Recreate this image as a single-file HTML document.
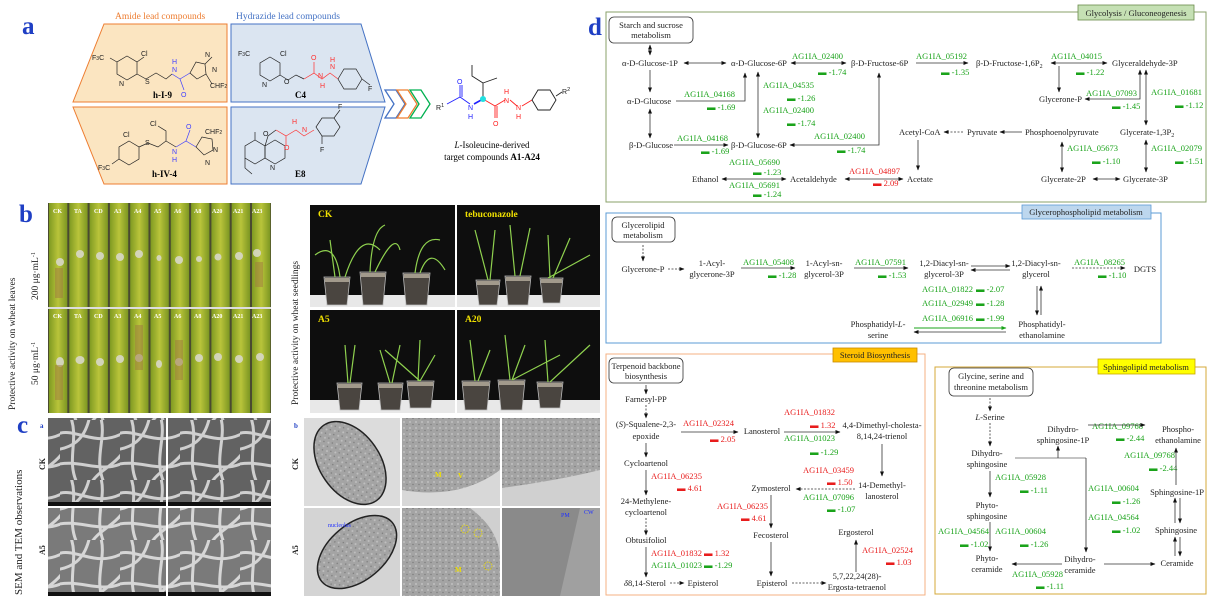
<!DOCTYPE html>
<html><head><meta charset="utf-8"><style>
html,body{margin:0;padding:0;background:#fff;}
svg{display:block;font-family:"Liberation Serif",serif;}
.t{font-size:8.5px;fill:#222;}
.g{font-size:8.5px;fill:#1aa31a;}
.r{font-size:8.5px;fill:#e81c1c;}
.ln{stroke:#333;stroke-width:0.8;fill:none;}
.lg{stroke:#888;stroke-width:0.9;fill:none;}
.dsh{stroke:#333;stroke-width:0.8;fill:none;stroke-dasharray:2,1.5;}
.ch{font-family:"Liberation Sans",sans-serif;font-size:7px;}
</style></head><body>
<svg width="1212" height="598" viewBox="0 0 1212 598" xmlns="http://www.w3.org/2000/svg">
<defs>
<marker id="a" markerWidth="5" markerHeight="5" refX="4.5" refY="2.5" orient="auto" markerUnits="userSpaceOnUse"><path d="M0,0.5L5,2.5L0,4.5z" fill="#111"/></marker>
<marker id="b" markerWidth="5" markerHeight="5" refX="0.5" refY="2.5" orient="auto" markerUnits="userSpaceOnUse"><path d="M5,0.5L0,2.5L5,4.5z" fill="#111"/></marker>
<marker id="ag" markerWidth="5" markerHeight="5" refX="4.5" refY="2.5" orient="auto" markerUnits="userSpaceOnUse"><path d="M0,0.5L5,2.5L0,4.5z" fill="#1aa31a"/></marker>
<linearGradient id="leaf" x1="0" x2="1" y1="0" y2="0"><stop offset="0" stop-color="#7f9a22"/><stop offset="0.5" stop-color="#b9c43a"/><stop offset="1" stop-color="#7c9622"/></linearGradient>
<pattern id="lp" x="48" y="0" width="20.3" height="600" patternUnits="userSpaceOnUse"><rect width="20.3" height="600" fill="#4a4a30"/><rect x="1" width="18.3" height="600" fill="url(#leaf)"/></pattern>
<pattern id="sem" width="60" height="60" patternUnits="userSpaceOnUse"><rect width="60" height="60" fill="#626262"/><path d="M-5,15 C15,5 35,30 65,12 M10,-5 C20,20 5,40 18,65 M-5,45 C20,38 40,55 65,42 M40,-5 C48,18 32,38 45,65 M-5,30 C10,28 25,22 30,-5 M30,65 C38,50 52,48 65,30" stroke="#cfcfcf" stroke-width="3" fill="none"/></pattern>
<pattern id="tem" width="6" height="6" patternUnits="userSpaceOnUse"><rect width="6" height="6" fill="#a4a4a4"/><circle cx="2" cy="2" r="1" fill="#c0c0c0"/><circle cx="5" cy="4.5" r="0.7" fill="#7a7a7a"/></pattern>
</defs>
<rect width="1212" height="598" fill="#fff"/>

<!-- ============ PANEL A ============ -->
<text x="22" y="34" font-size="25" font-weight="bold" fill="#1f3fc4">a</text>
<text x="115" y="19" font-size="9.5" fill="#ed7d31">Amide lead compounds</text>
<text x="236" y="19" font-size="9.5" fill="#4472c4">Hydrazide lead compounds</text>
<polygon points="104,24 227,24 227,102 73,102" fill="#fbe5c1" stroke="#ed7d31" stroke-width="1"/>
<polygon points="73,107 227,107 227,184 104,184" fill="#fbe5c1" stroke="#ed7d31" stroke-width="1"/>
<polygon points="231,24 361,24 385,102 231,102" fill="#dbe5f1" stroke="#4472c4" stroke-width="1"/>
<polygon points="231,107 385,107 361,184 231,184" fill="#dbe5f1" stroke="#4472c4" stroke-width="1"/>
<g fill="none" stroke-width="1.3">
<path d="M385,90 L396,90 L405,104 L396,118 L385,118 L394,104Z" stroke="#4472c4"/>
<path d="M397,90 L408,90 L417,104 L408,118 L397,118 L406,104Z" stroke="#ed7d31"/>
<path d="M410,90 L421,90 L430,104 L421,118 L410,118 L419,104Z" stroke="#00b050"/>
</g>
<!-- h-I-9 -->
<g class="ch" stroke="#222" stroke-width="0.7" fill="none">
<polygon points="127,56 137,62 137,74 127,80 117,74 117,62"/>
<path d="M137,62 L144,57 M137,74 L146,79 L156,73 L166,79 L172,74"/>
<path d="M172,74 L180,79" stroke="#4040ff"/><path d="M180,79 L184,90 M180,79 L190,73" stroke="#4040ff"/>
<polygon points="190,73 196,62 205,64 206,74 197,79"/>
<path d="M205,64 L212,57 M206,74 L212,84"/>
<path d="M117,62 L110,58"/>
</g>
<g class="ch" fill="#222"><text x="92" y="60">F<tspan font-size="5">3</tspan>C</text><text x="141" y="56">Cl</text><text x="119" y="86">N</text><text x="145" y="84">S</text><text x="210" y="88">CHF<tspan font-size="5">2</tspan></text><text x="205" y="57">N</text><text x="212" y="72">N</text></g>
<g class="ch" fill="#4040ff"><text x="172" y="72">N</text><text x="172" y="64">H</text><text x="181" y="97">O</text></g>
<text x="153" y="98" font-size="9" font-weight="bold">h-I-9</text>
<!-- h-IV-4 -->
<g stroke="#222" stroke-width="0.7" fill="none">
<polygon points="129,141 139,147 139,159 129,165 119,159 119,147"/>
<path d="M139,147 L148,143 L158,147 L166,141 L166,131 L158,126 M166,141 L176,147"/>
<path d="M176,147 L186,141 L190,130 M186,141 L196,147" stroke="#4040ff"/>
<polygon points="196,147 202,137 212,139 213,150 204,155"/>
<path d="M119,159 L112,164"/>
</g>
<g class="ch" fill="#222"><text x="150" y="126">Cl</text><text x="123" y="137">Cl</text><text x="145" y="145">S</text><text x="98" y="170">F<tspan font-size="5">3</tspan>C</text><text x="205" y="134">CHF<tspan font-size="5">2</tspan></text><text x="213" y="152">N</text><text x="205" y="165">N</text></g>
<g class="ch" fill="#4040ff"><text x="172" y="154">N</text><text x="172" y="162">H</text><text x="186" y="129">O</text></g>
<text x="152" y="177" font-size="9" font-weight="bold">h-IV-4</text>
<!-- C4 -->
<g stroke="#222" stroke-width="0.7" fill="none">
<polygon points="270,57 280,63 280,75 270,81 260,75 260,63"/>
<path d="M280,75 L288,80 L296,75 L304,79"/>
<path d="M304,79 L314,73 L314,62 M314,73 L322,79 L330,73 L338,79" stroke="#ff3030"/>
<polygon points="338,79 344,69 356,69 362,79 356,89 344,89"/>
<path d="M362,79 L370,85"/>
</g>
<g class="ch" fill="#222"><text x="238" y="56">F<tspan font-size="5">3</tspan>C</text><text x="280" y="56">Cl</text><text x="262" y="87">N</text><text x="284" y="84">O</text><text x="368" y="91">F</text></g>
<g class="ch" fill="#ff3030"><text x="311" y="60">O</text><text x="318" y="78">N</text><text x="320" y="88">H</text><text x="330" y="69">N</text><text x="330" y="62">H</text></g>
<text x="295" y="98" font-size="9" font-weight="bold">C4</text>
<!-- E8 -->
<g stroke="#222" stroke-width="0.7" fill="none">
<polygon points="255,140 265,146 265,158 255,164 245,158 245,146"/>
<polygon points="265,146 275,140 285,146 285,158 275,164 265,158"/>
<path d="M265,146 L268,136 L276,130 M255,140 L255,132 M245,158 L245,168 L252,174"/>
<path d="M276,130 L286,136 L286,146 M286,136 L296,130 L304,136 L314,130" stroke="#ff3030"/>
<polygon points="316,127 322,118 334,118 340,127 334,136 322,136"/>
<path d="M334,118 L340,110 M322,136 L322,144"/>
</g>
<g class="ch" fill="#222"><text x="263" y="136">O</text><text x="270" y="170">N</text><text x="338" y="109">F</text><text x="320" y="152">F</text></g>
<g class="ch" fill="#ff3030"><text x="284" y="150">O</text><text x="302" y="132">N</text><text x="292" y="124">H</text></g>
<text x="295" y="177" font-size="9" font-weight="bold">E8</text>
<!-- target -->
<g stroke-width="0.9" fill="none">
<path d="M447,104 L460,97 L460,85 M462,97 L462,85 M460,97 L470,104" stroke="#2020ff"/>
<path d="M474,104 L483,99" stroke="#2020ff" stroke-width="1.6"/>
<path d="M483,99 L483,83 L472,76 L472,65 M483,83 L497,78" stroke="#222"/>
<path d="M483,99 L495,106 L495,118 M497,106 L497,118 M495,106 L505,100 M510,100 L517,106 M522,106 L532,100" stroke="#ff2020"/>
<polygon points="532,100 538,90 550,90 556,100 550,110 538,110" stroke="#222"/>
<path d="M556,96 L562,92" stroke="#222"/>
</g>
<circle cx="483" cy="99" r="3" fill="#20e0e0"/>
<g class="ch" font-size="8.5px"><text x="436" y="110" fill="#222">R<tspan font-size="5.5" dy="-3">1</tspan></text><text x="457" y="84" fill="#2020ff">O</text><text x="468" y="110" fill="#2020ff">N</text><text x="468" y="119" fill="#2020ff">H</text><text x="493" y="126" fill="#ff2020">O</text><text x="504" y="103" fill="#ff2020">N</text><text x="504" y="94" fill="#ff2020">H</text><text x="516" y="110" fill="#ff2020">N</text><text x="516" y="119" fill="#ff2020">H</text><text x="562" y="94" fill="#222">R<tspan font-size="5.5" dy="-3">2</tspan></text></g>
<text x="492" y="148" font-size="9" text-anchor="middle"><tspan font-style="italic">L</tspan>-Isoleucine-derived</text>
<text x="492" y="160" font-size="9" text-anchor="middle">target compounds <tspan font-weight="bold">A1-A24</tspan></text>

<!-- ============ PANEL B ============ -->
<text x="19" y="222" font-size="25" font-weight="bold" fill="#1f3fc4">b</text>
<text transform="translate(15,410) rotate(-90)" font-size="9.5" fill="#222">Protective activity on wheat leaves</text>
<text transform="translate(38,300) rotate(-90)" font-size="9.5" fill="#222">200 μg·mL<tspan font-size="6" dy="-3">-1</tspan></text>
<text transform="translate(38,385) rotate(-90)" font-size="9.5" fill="#222">50 μg·mL<tspan font-size="6" dy="-3">-1</tspan></text>
<rect x="48" y="203" width="223" height="210" fill="url(#lp)"/>
<rect x="48" y="307" width="223" height="2" fill="#ddd"/>
<g fill="#d8d8c8" opacity="0.9">
<ellipse cx="60" cy="262" rx="4" ry="4"/><ellipse cx="80" cy="254" rx="4" ry="4"/><ellipse cx="100" cy="256" rx="4" ry="4"/><ellipse cx="120" cy="257" rx="4" ry="4"/><ellipse cx="139" cy="254" rx="4" ry="4"/><ellipse cx="159" cy="258" rx="2.5" ry="3"/><ellipse cx="179" cy="260" rx="4" ry="4"/><ellipse cx="199" cy="259" rx="3" ry="3"/><ellipse cx="218" cy="257" rx="3.5" ry="3.5"/><ellipse cx="239" cy="256" rx="4" ry="4"/><ellipse cx="257" cy="253" rx="4" ry="4"/>
<ellipse cx="60" cy="362" rx="4" ry="5"/><ellipse cx="80" cy="360" rx="4.5" ry="4"/><ellipse cx="100" cy="362" rx="4" ry="4"/><ellipse cx="120" cy="359" rx="4" ry="4"/><ellipse cx="139" cy="358" rx="4" ry="4"/><ellipse cx="159" cy="364" rx="3" ry="4"/><ellipse cx="179" cy="362" rx="4" ry="4"/><ellipse cx="199" cy="358" rx="4" ry="4"/><ellipse cx="218" cy="357" rx="4" ry="4"/><ellipse cx="239" cy="359" rx="4" ry="4"/><ellipse cx="260" cy="357" rx="4" ry="4"/>
</g>
<g fill="#a07a40" opacity="0.5"><rect x="55" y="268" width="8" height="30"/><rect x="55" y="365" width="8" height="35"/><rect x="255" y="262" width="8" height="25"/><rect x="175" y="340" width="8" height="40"/><rect x="135" y="325" width="8" height="45"/></g>
<g font-size="6" font-weight="bold" fill="#fff"><text x="53" y="213">CK</text><text x="74" y="213">TA</text><text x="94" y="213">CD</text><text x="114" y="213">A3</text><text x="134" y="213">A4</text><text x="154" y="213">A5</text><text x="174" y="213">A6</text><text x="194" y="213">A8</text><text x="212" y="213">A20</text><text x="233" y="213">A21</text><text x="252" y="213">A23</text>
<text x="53" y="318">CK</text><text x="74" y="318">TA</text><text x="94" y="318">CD</text><text x="114" y="318">A3</text><text x="134" y="318">A4</text><text x="154" y="318">A5</text><text x="174" y="318">A6</text><text x="194" y="318">A8</text><text x="212" y="318">A20</text><text x="233" y="318">A21</text><text x="252" y="318">A23</text></g>

<text transform="translate(298,405) rotate(-90)" font-size="9.5" fill="#222">Protective activity on wheat seedlings</text>
<rect x="310" y="205" width="145" height="102" fill="#0e0e0e"/>
<rect x="457" y="205" width="143" height="102" fill="#0e0e0e"/>
<rect x="310" y="310" width="145" height="103" fill="#0e0e0e"/>
<rect x="457" y="310" width="143" height="103" fill="#0e0e0e"/>
<g fill="#e8e8e8"><rect x="310" y="295" width="145" height="12"/><rect x="457" y="295" width="143" height="12"/><rect x="310" y="400" width="145" height="13"/><rect x="457" y="400" width="143" height="13"/></g>
<g fill="#4a4540" stroke="#bbb" stroke-width="0.8">
<path d="M324,277 L350,277 L347,305 L327,305Z"/><path d="M360,272 L386,272 L383,305 L363,305Z"/><path d="M403,273 L430,273 L427,305 L406,305Z"/>
<path d="M476,280 L500,280 L497,305 L479,305Z"/><path d="M505,276 L531,276 L528,305 L508,305Z"/><path d="M540,278 L563,278 L560,303 L543,303Z"/>
<path d="M337,383 L362,383 L359,410 L340,410Z"/><path d="M378,383 L403,383 L400,410 L381,410Z"/><path d="M407,381 L434,381 L431,408 L410,408Z"/>
<path d="M462,381 L490,381 L487,410 L465,410Z"/><path d="M498,380 L525,380 L522,410 L501,410Z"/><path d="M537,382 L563,382 L560,408 L540,408Z"/>
</g>
<g fill="#b8b0a0" opacity="0.8"><rect x="325" y="278" width="24" height="4"/><rect x="361" y="273" width="24" height="4"/><rect x="404" y="274" width="25" height="4"/><rect x="477" y="281" width="22" height="4"/><rect x="506" y="277" width="24" height="4"/><rect x="541" y="279" width="21" height="4"/><rect x="338" y="384" width="23" height="4"/><rect x="379" y="384" width="23" height="4"/><rect x="408" y="382" width="25" height="4"/><rect x="463" y="382" width="26" height="4"/><rect x="499" y="381" width="25" height="4"/><rect x="538" y="383" width="24" height="4"/></g>
<g stroke="#8fd14f" stroke-width="1.2" fill="none">
<path d="M335,277 L330,240 M340,277 Q335,240 315,255 M345,277 Q360,230 380,250 M370,272 Q372,230 385,225 M375,272 Q395,230 400,250 M415,273 Q420,235 440,240 M420,273 Q430,245 445,270"/>
<path d="M488,280 L475,230 M490,280 L495,230 M515,276 L510,225 M520,276 L530,228 M550,278 L548,235 M553,278 L570,238 M548,278 L590,255"/>
<path d="M348,383 L345,345 M350,383 L355,345 M390,383 L380,350 M392,383 L400,345 M418,381 L420,340 M420,381 L435,355 M420,381 L385,350"/>
<path d="M475,381 L470,340 M478,381 L490,350 M510,380 L505,335 M512,380 L525,345 M548,382 L545,340 M550,382 L590,345 M512,380 L560,355"/>
</g>
<g font-size="9.5" font-weight="bold" fill="#f0e000"><text x="318" y="217">CK</text><text x="465" y="217">tebuconazole</text><text x="318" y="322">A5</text><text x="465" y="322">A20</text></g>

<!-- ============ PANEL C ============ -->
<text x="17" y="433" font-size="25" font-weight="bold" fill="#1f3fc4">c</text>
<text transform="translate(22,595) rotate(-90)" font-size="11" fill="#222">SEM and TEM observations</text>
<text x="40" y="428" font-size="7" font-weight="bold" fill="#1f3fc4">a</text>
<text transform="translate(45,470) rotate(-90)" font-size="8" font-weight="bold" fill="#222">CK</text>
<text transform="translate(45,555) rotate(-90)" font-size="8" font-weight="bold" fill="#222">A5</text>
<rect x="48" y="418" width="118" height="88" fill="url(#sem)"/><rect x="168" y="418" width="103" height="88" fill="url(#sem)"/>
<rect x="48" y="508" width="118" height="88" fill="url(#sem)" opacity="0.85"/><rect x="168" y="508" width="103" height="88" fill="url(#sem)" opacity="0.85"/>
<g fill="#111"><rect x="48" y="502" width="118" height="4"/><rect x="168" y="502" width="103" height="4"/><rect x="48" y="592" width="118" height="4"/><rect x="168" y="592" width="103" height="4"/></g>
<text x="294" y="428" font-size="7" font-weight="bold" fill="#1f3fc4">b</text>
<text transform="translate(298,470) rotate(-90)" font-size="8" font-weight="bold" fill="#222">CK</text>
<text transform="translate(298,555) rotate(-90)" font-size="8" font-weight="bold" fill="#222">A5</text>
<rect x="304" y="418" width="96" height="88" fill="#dcdcdc"/>
<ellipse cx="350" cy="463" rx="30" ry="46" transform="rotate(-35 350 463)" fill="url(#tem)" stroke="#222" stroke-width="1.5"/>
<rect x="402" y="418" width="98" height="88" fill="url(#tem)"/>
<path d="M402,490 Q460,500 500,470 L500,506 L402,506Z" fill="#d8d8d8"/>
<rect x="502" y="418" width="98" height="88" fill="url(#tem)"/>
<path d="M502,488 Q560,480 600,470 L600,506 L502,506Z" fill="#d0d0d0"/>
<rect x="304" y="508" width="96" height="88" fill="#d4d4d4"/>
<ellipse cx="357" cy="552" rx="28" ry="46" transform="rotate(50 357 552)" fill="url(#tem)" stroke="#222" stroke-width="1.5"/>
<rect x="402" y="508" width="98" height="88" fill="url(#tem)"/>
<path d="M470,508 Q500,530 500,560 L500,508Z" fill="#d0d0d0"/>
<rect x="502" y="508" width="98" height="88" fill="#8a8a8a"/>
<path d="M580,508 L600,508 L600,596 L560,596Z" fill="#a0a0a0"/>
<g font-size="7" fill="#f0e000" font-weight="bold"><text x="435" y="477">M</text><text x="458" y="478">V</text><text x="455" y="572">M</text></g>
<g font-size="6" fill="#2030ff"><text x="328" y="527">nucleolus</text><text x="561" y="517">PM</text><text x="584" y="514">CW</text></g>
<g fill="none" stroke="#f0e000" stroke-width="0.8" stroke-dasharray="1.5,1"><circle cx="465" cy="529" r="4"/><circle cx="478" cy="533" r="4"/><circle cx="488" cy="566" r="4"/></g>

<!-- ============ PANEL D ============ -->
<text x="588" y="35" font-size="25" font-weight="bold" fill="#1f3fc4">d</text>
<rect x="606" y="12" width="600" height="190" fill="none" stroke="#8aa06a" stroke-width="1"/>
<rect x="1078" y="5" width="116" height="15" fill="#c5e0b4" stroke="#6a8a4a" stroke-width="0.8"/>
<text x="1136" y="16" font-size="8.5" text-anchor="middle" fill="#222">Glycolysis / Gluconeogenesis</text>
<rect x="609" y="17" width="84" height="26" rx="5" fill="#fff" stroke="#333" stroke-width="0.8"/>
<text x="651" y="28" class="t" text-anchor="middle">Starch and sucrose</text><text x="651" y="38" class="t" text-anchor="middle">metabolism</text>
<g class="t">
<text x="622" y="66">α-D-Glucose-1P</text><text x="731" y="66">α-D-Glucose-6P</text><text x="851" y="66">β-D-Fructose-6P</text><text x="976" y="66">β-D-Fructose-1,6P<tspan font-size="6" dy="2">2</tspan></text><text x="1112" y="66">Glyceraldehyde-3P</text>
<text x="627" y="104">α-D-Glucose</text><text x="629" y="148">β-D-Glucose</text><text x="731" y="148">β-D-Glucose-6P</text>
<text x="1039" y="102">Glycerone-P</text>
<text x="899" y="135">Acetyl-CoA</text><text x="967" y="135">Pyruvate</text><text x="1025" y="135">Phosphoenolpyruvate</text><text x="1120" y="135">Glycerate-1,3P<tspan font-size="6" dy="2">2</tspan></text>
<text x="692" y="182">Ethanol</text><text x="790" y="182">Acetaldehyde</text><text x="907" y="182">Acetate</text><text x="1041" y="182">Glycerate-2P</text><text x="1123" y="182">Glycerate-3P</text>
</g>
<g class="g">
<text x="792" y="59">AG1IA_02400</text><text x="818" y="75">▬ -1.74</text>
<text x="916" y="59">AG1IA_05192</text><text x="941" y="75">▬ -1.35</text>
<text x="1051" y="59">AG1IA_04015</text><text x="1076" y="75">▬ -1.22</text>
<text x="684" y="97">AG1IA_04168</text><text x="707" y="110">▬ -1.69</text>
<text x="763" y="88">AG1IA_04535</text><text x="787" y="101">▬ -1.26</text>
<text x="763" y="113">AG1IA_02400</text><text x="787" y="126">▬ -1.74</text>
<text x="677" y="141">AG1IA_04168</text><text x="701" y="154">▬ -1.69</text>
<text x="814" y="139">AG1IA_02400</text><text x="837" y="153">▬ -1.74</text>
<text x="1086" y="96">AG1IA_07093</text><text x="1112" y="109">▬ -1.45</text>
<text x="1151" y="95">AG1IA_01681</text><text x="1175" y="108">▬ -1.12</text>
<text x="729" y="165">AG1IA_05690</text><text x="753" y="175">▬ -1.23</text>
<text x="729" y="188">AG1IA_05691</text><text x="753" y="197">▬ -1.24</text>
<text x="1067" y="151">AG1IA_05673</text><text x="1092" y="164">▬ -1.10</text>
<text x="1151" y="151">AG1IA_02079</text><text x="1175" y="164">▬ -1.51</text>
</g>
<g class="r"><text x="849" y="174">AG1IA_04897</text><text x="873" y="186">▬ 2.09</text></g>
<g class="ln">
<path d="M650,45 L650,55" marker-start="url(#b)" marker-end="url(#a)"/>
<path d="M684,63 L726,63" marker-start="url(#b)" marker-end="url(#a)"/>
<path d="M791,63 L846,63" marker-start="url(#b)" marker-end="url(#a)"/>
<path d="M916,63 L968,63" marker-end="url(#a)"/>
<path d="M1051,63 L1107,63" marker-start="url(#b)" marker-end="url(#a)"/>
<path d="M1059,66 L1059,92" marker-end="url(#a)"/>
<path d="M1140,70 L1140,99 L1085,99" marker-start="url(#b)" marker-end="url(#a)"/>
<path d="M1146,70 L1146,125" marker-start="url(#b)" marker-end="url(#a)"/>
<path d="M650,70 L650,92" marker-end="url(#a)"/>
<path d="M650,109 L650,138" marker-start="url(#b)" marker-end="url(#a)"/>
<path d="M676,101 L745,101 L745,73" marker-end="url(#a)"/>
<path d="M674,145 L728,145" marker-end="url(#a)"/>
<path d="M758,72 L758,138" marker-start="url(#b)" marker-end="url(#a)"/>
<path d="M879,73 L879,145 L790,145" marker-start="url(#b)" marker-end="url(#a)"/>
<path d="M1022,132 L1000,132" marker-end="url(#a)"/>
<path d="M963,132 L944,132" class="dsh" marker-end="url(#a)"/>
<path d="M918,140 L918,170" marker-end="url(#a)"/>
<path d="M722,179 L786,179" marker-start="url(#b)" marker-end="url(#a)"/>
<path d="M845,179 L903,179" marker-start="url(#b)" marker-end="url(#a)"/>
<path d="M1062,142 L1062,172" marker-start="url(#b)" marker-end="url(#a)"/>
<path d="M1146,140 L1146,172" marker-start="url(#b)" marker-end="url(#a)"/>
<path d="M1093,179 L1120,179" marker-start="url(#b)" marker-end="url(#a)"/>
</g>

<rect x="606" y="213" width="555" height="130" fill="none" stroke="#5b9bd5" stroke-width="1"/>
<rect x="1022" y="205" width="129" height="14" fill="#bdd7ee" stroke="#5b9bd5" stroke-width="0.8"/>
<text x="1086" y="215" font-size="8.5" text-anchor="middle" fill="#222">Glycerophospholipid metabolism</text>
<rect x="612" y="217" width="63" height="25" rx="5" fill="#fff" stroke="#333" stroke-width="0.8"/>
<text x="643" y="228" class="t" text-anchor="middle">Glycerolipid</text><text x="643" y="238" class="t" text-anchor="middle">metabolism</text>
<g class="t" text-anchor="middle">
<text x="643" y="272">Glycerone-P</text>
<text x="712" y="266">1-Acyl-</text><text x="712" y="277">glycerone-3P</text>
<text x="824" y="266">1-Acyl-sn-</text><text x="824" y="277">glycerol-3P</text>
<text x="944" y="266">1,2-Diacyl-sn-</text><text x="944" y="277">glycerol-3P</text>
<text x="1036" y="266">1,2-Diacyl-sn-</text><text x="1036" y="277">glycerol</text>
<text x="1145" y="272">DGTS</text>
<text x="878" y="327">Phosphatidyl-<tspan font-style="italic">L</tspan>-</text><text x="878" y="338">serine</text>
<text x="1042" y="327">Phosphatidyl-</text><text x="1042" y="338">ethanolamine</text>
</g>
<g class="g">
<text x="743" y="265">AG1IA_05408</text><text x="768" y="278">▬ -1.28</text>
<text x="855" y="265">AG1IA_07591</text><text x="878" y="278">▬ -1.53</text>
<text x="1074" y="265">AG1IA_08265</text><text x="1098" y="278">▬ -1.10</text>
<text x="922" y="292">AG1IA_01822</text><text x="976" y="292">▬ -2.07</text>
<text x="922" y="306">AG1IA_02949</text><text x="976" y="306">▬ -1.28</text>
<text x="922" y="321">AG1IA_06916</text><text x="976" y="321">▬ -1.99</text>
</g>
<g class="ln">
<path d="M643,245 L643,261" class="dsh" marker-end="url(#a)"/>
<path d="M668,269 L684,269" class="dsh" marker-end="url(#a)"/>
<path d="M741,268 L795,268" marker-end="url(#a)"/>
<path d="M854,268 L908,268" marker-end="url(#a)"/>
<path d="M971,266 L1010,266" marker-end="url(#a)"/>
<path d="M1010,270 L971,270" marker-end="url(#a)"/>
<path d="M1072,268 L1125,268" class="dsh" marker-end="url(#a)"/>
<path d="M1037,286 L1037,315" marker-end="url(#a)"/>
<path d="M1041,315 L1041,286" marker-end="url(#a)"/>
<path d="M1006,332 L914,332" marker-end="url(#a)"/>
</g>
<path d="M914,328 L1006,328" stroke="#1aa31a" stroke-width="0.9" marker-end="url(#ag)"/>

<rect x="606" y="354" width="319" height="241" fill="none" stroke="#f4b183" stroke-width="1"/>
<rect x="833" y="348" width="84" height="14" fill="#ffc000" stroke="#c98a00" stroke-width="0.8"/>
<text x="875" y="358" font-size="8.5" text-anchor="middle" fill="#222">Steroid Biosynthesis</text>
<rect x="609" y="358" width="74" height="25" rx="5" fill="#fff" stroke="#333" stroke-width="0.8"/>
<text x="646" y="369" class="t" text-anchor="middle">Terpenoid backbone</text><text x="646" y="379" class="t" text-anchor="middle">biosynthesis</text>
<g class="t" text-anchor="middle">
<text x="646" y="402">Farnesyl-PP</text>
<text x="646" y="427">(<tspan font-style="italic">S</tspan>)-Squalene-2,3-</text><text x="646" y="439">epoxide</text>
<text x="762" y="434">Lanosterol</text>
<text x="882" y="428">4,4-Dimethyl-cholesta-</text><text x="882" y="439">8,14,24-trienol</text>
<text x="646" y="466">Cycloartenol</text>
<text x="646" y="504">24-Methylene-</text><text x="646" y="515">cycloartenol</text>
<text x="646" y="543">Obtusifoliol</text>
<text x="645" y="586"><tspan font-style="italic">δ</tspan>8,14-Sterol</text>
<text x="703" y="586">Episterol</text>
<text x="882" y="488">14-Demethyl-</text><text x="882" y="499">lanosterol</text>
<text x="771" y="491">Zymosterol</text>
<text x="771" y="538">Fecosterol</text>
<text x="856" y="535">Ergosterol</text>
<text x="772" y="586">Episterol</text>
<text x="857" y="579">5,7,22,24(28)-</text><text x="857" y="590">Ergosta-tetraenol</text>
</g>
<g class="r">
<text x="683" y="426">AG1IA_02324</text><text x="710" y="442">▬ 2.05</text>
<text x="784" y="415">AG1IA_01832</text><text x="810" y="428">▬ 1.32</text>
<text x="651" y="479">AG1IA_06235</text><text x="677" y="491">▬ 4.61</text>
<text x="651" y="556">AG1IA_01832</text><text x="704" y="556">▬ 1.32</text>
<text x="803" y="473">AG1IA_03459</text><text x="827" y="485">▬ 1.50</text>
<text x="717" y="509">AG1IA_06235</text><text x="741" y="521">▬ 4.61</text>
<text x="862" y="553">AG1IA_02524</text><text x="886" y="565">▬ 1.03</text>
</g>
<g class="g">
<text x="784" y="441">AG1IA_01023</text><text x="810" y="455">▬ -1.29</text>
<text x="651" y="568">AG1IA_01023</text><text x="704" y="568">▬ -1.29</text>
<text x="803" y="500">AG1IA_07096</text><text x="827" y="512">▬ -1.07</text>
</g>
<g class="ln">
<path d="M646,385 L646,394" marker-end="url(#a)"/>
<path d="M646,405 L646,418" class="dsh" marker-end="url(#a)"/>
<path d="M681,432 L738,432" marker-end="url(#a)"/>
<path d="M784,432 L840,432" marker-end="url(#a)"/>
<path d="M646,443 L646,457" marker-end="url(#a)"/>
<path d="M646,470 L646,495" marker-end="url(#a)"/>
<path d="M646,518 L646,535" class="dsh" marker-end="url(#a)"/>
<path d="M646,547 L646,577" marker-end="url(#a)"/>
<path d="M670,583 L684,583" class="dsh" marker-end="url(#a)"/>
<path d="M882,444 L882,476" marker-end="url(#a)"/>
<path d="M855,489 L796,489" class="dsh" marker-end="url(#a)"/>
<path d="M771,495 L771,528" marker-end="url(#a)"/>
<path d="M771,542 L771,576" marker-end="url(#a)"/>
<path d="M792,583 L826,583" class="dsh" marker-end="url(#a)"/>
<path d="M856,572 L856,540" marker-end="url(#a)"/>
</g>

<rect x="935" y="367" width="271" height="227" fill="none" stroke="#d4a83a" stroke-width="1"/>
<rect x="1098" y="359" width="97" height="15" fill="#ffff00" stroke="#c9a800" stroke-width="0.8"/>
<text x="1146" y="370" font-size="8.5" text-anchor="middle" fill="#222">Sphingolipid metabolism</text>
<rect x="949" y="368" width="84" height="28" rx="5" fill="#fff" stroke="#333" stroke-width="0.8"/>
<text x="991" y="379" class="t" text-anchor="middle">Glycine, serine and</text><text x="991" y="390" class="t" text-anchor="middle">threonine metabolism</text>
<g class="t" text-anchor="middle">
<text x="990" y="420"><tspan font-style="italic">L</tspan>-Serine</text>
<text x="987" y="456">Dihydro-</text><text x="987" y="467">sphingosine</text>
<text x="1063" y="432">Dihydro-</text><text x="1063" y="443">sphingosine-1P</text>
<text x="1178" y="432">Phospho-</text><text x="1178" y="443">ethanolamine</text>
<text x="1177" y="495">Sphingosine-1P</text>
<text x="987" y="508">Phyto-</text><text x="987" y="519">sphingosine</text>
<text x="1176" y="533">Sphingosine</text>
<text x="987" y="561">Phyto-</text><text x="987" y="572">ceramide</text>
<text x="1080" y="562">Dihydro-</text><text x="1080" y="573">ceramide</text>
<text x="1177" y="566">Ceramide</text>
</g>
<g class="g">
<text x="1092" y="429">AG1IA_09768</text><text x="1116" y="441">▬ -2.44</text>
<text x="995" y="480">AG1IA_05928</text><text x="1020" y="493">▬ -1.11</text>
<text x="1124" y="458">AG1IA_09768</text><text x="1149" y="471">▬ -2.44</text>
<text x="1088" y="491">AG1IA_00604</text><text x="1112" y="504">▬ -1.26</text>
<text x="1088" y="520">AG1IA_04564</text><text x="1112" y="533">▬ -1.02</text>
<text x="938" y="534">AG1IA_04564</text><text x="960" y="547">▬ -1.02</text>
<text x="995" y="534">AG1IA_00604</text><text x="1020" y="547">▬ -1.26</text>
<text x="1012" y="577">AG1IA_05928</text><text x="1036" y="589">▬ -1.11</text>
</g>
<g class="ln">
<path d="M990,398 L990,411" class="dsh" marker-end="url(#a)"/>
<path d="M990,423 L990,446" class="dsh" marker-end="url(#a)"/>
<path d="M1015,458 L1086,458" class="lg"/>
<path d="M1058,458 L1058,446" marker-end="url(#a)"/>
<path d="M1086,458 L1086,552" marker-end="url(#a)"/>
<path d="M1088,425 L1145,425" marker-end="url(#a)"/>
<path d="M1176,485 L1176,448" marker-end="url(#a)"/>
<path d="M1175,523 L1175,498" marker-end="url(#a)"/>
<path d="M1180,498 L1180,523" marker-end="url(#a)"/>
<path d="M1175,556 L1175,537" marker-end="url(#a)"/>
<path d="M1180,537 L1180,556" marker-end="url(#a)"/>
<path d="M990,471 L990,497" marker-end="url(#a)"/>
<path d="M990,522 L990,551" marker-end="url(#a)"/>
<path d="M1062,564 L1012,564" marker-end="url(#a)"/>
<path d="M1104,564 L1155,564" marker-end="url(#a)"/>
</g>
</svg>
</body></html>
